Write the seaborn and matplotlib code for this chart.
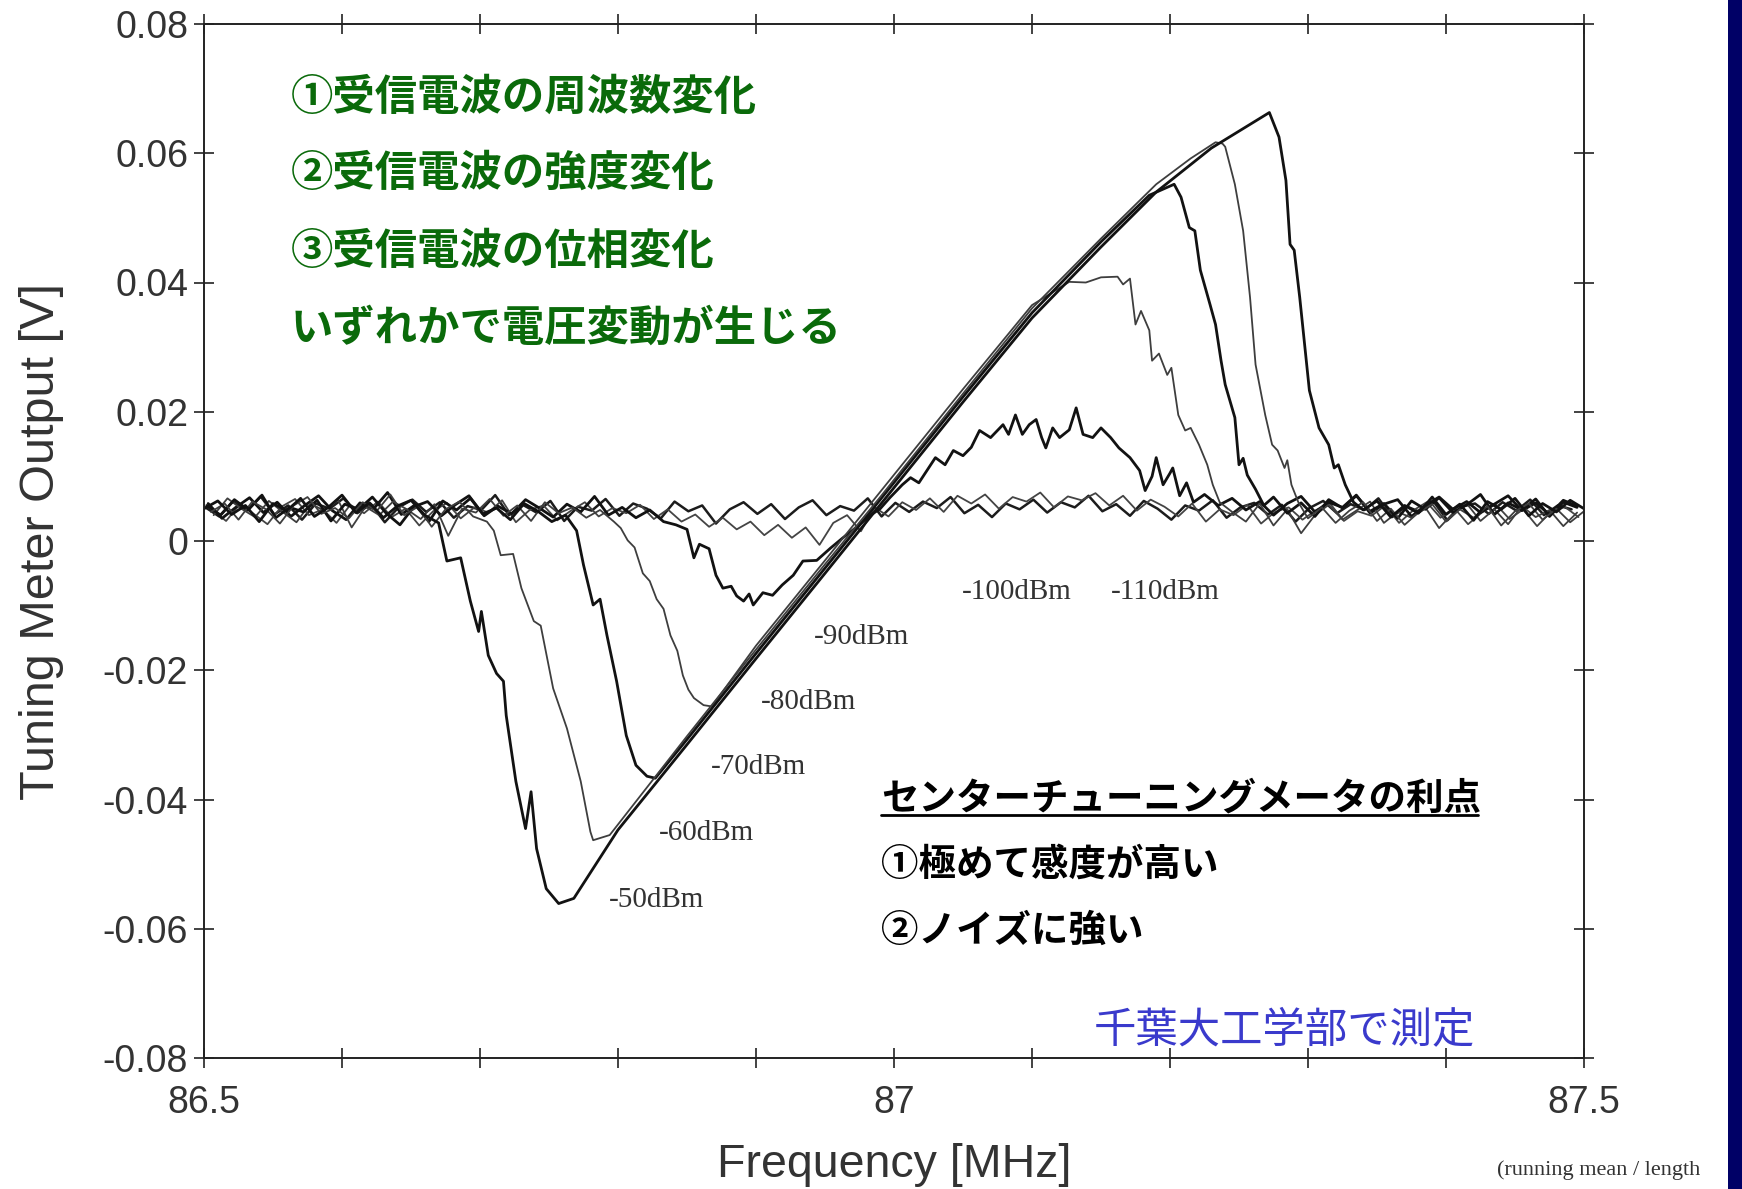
import numpy as np
import matplotlib
matplotlib.use("Agg")
import matplotlib.pyplot as plt
import seaborn as sns
from matplotlib.lines import Line2D
from matplotlib.patches import Rectangle

# ---------------- data ----------------
F50 = [86.500, 86.510, 86.520, 86.530, 86.540, 86.550, 86.560, 86.570, 86.580, 86.590,
       86.600, 86.610, 86.620, 86.630, 86.640, 86.650, 86.660, 86.670,
       86.676, 86.686, 86.693, 86.699, 86.701, 86.706, 86.712, 86.717, 86.719, 86.726,
       86.733, 86.737, 86.741, 86.748, 86.757, 86.768,
       86.800, 86.850, 86.900, 86.950, 86.990, 87.050, 87.100, 87.150, 87.190, 87.230, 87.272,
       87.279, 87.284, 87.287, 87.290, 87.294, 87.301, 87.308, 87.315, 87.319, 87.322, 87.327, 87.333,
       87.340, 87.350, 87.360, 87.370, 87.380, 87.390, 87.400, 87.410, 87.420, 87.430,
       87.440, 87.450, 87.460, 87.470, 87.480, 87.490, 87.500]
V50 = [0.0050, 0.0062, 0.0041, 0.0055, 0.0030, 0.0058, 0.0047, 0.0066, 0.0038, 0.0052,
       0.0071, 0.0044, 0.0059, 0.0036, 0.0054, 0.0063, 0.0040, 0.0028,
       -0.0031, -0.0026, -0.0093, -0.0140, -0.0109, -0.0177, -0.0205, -0.0217, -0.0270, -0.0372,
       -0.0445, -0.0388, -0.0476, -0.0538, -0.0561, -0.0553,
       -0.0447, -0.0315, -0.0182, -0.0050, 0.0056, 0.0215, 0.0345, 0.0455, 0.0540, 0.0608, 0.0663,
       0.0625, 0.0558, 0.0459, 0.0450, 0.0377, 0.0233, 0.0175, 0.0149, 0.0113, 0.0118, 0.0087, 0.0060,
       0.0048, 0.0062, 0.0037, 0.0055, 0.0043, 0.0068, 0.0041, 0.0057, 0.0032, 0.0061,
       0.0049, 0.0066, 0.0039, 0.0058, 0.0045, 0.0063, 0.0050]

F60 = [86.505, 86.515, 86.525, 86.535, 86.545, 86.555, 86.565, 86.575, 86.585, 86.595,
       86.605, 86.615, 86.625, 86.635, 86.645, 86.655, 86.665, 86.675, 86.685, 86.695, 86.705,
       86.710, 86.715, 86.724, 86.730, 86.739, 86.744, 86.753, 86.763, 86.773, 86.780, 86.782, 86.794,
       86.850, 86.900, 86.950, 86.990, 87.050, 87.100, 87.150, 87.190, 87.215, 87.233, 87.238,
       87.240, 87.247, 87.253, 87.258, 87.262, 87.269, 87.274, 87.278, 87.283, 87.285, 87.288, 87.293,
       87.300, 87.310, 87.320, 87.330, 87.340, 87.350, 87.360, 87.370, 87.380, 87.390,
       87.400, 87.410, 87.420, 87.430, 87.440, 87.450, 87.460, 87.470, 87.480, 87.490, 87.500]
V60 = [0.0045, 0.0058, 0.0033, 0.0061, 0.0049, 0.0027, 0.0055, 0.0068, 0.0042, 0.0051,
       0.0035, 0.0060, 0.0046, 0.0072, 0.0040, 0.0053, 0.0022, 0.0049, 0.0061, 0.0038, 0.0030,
       0.0016, -0.0022, -0.0020, -0.0073, -0.0124, -0.0131, -0.0228, -0.0290, -0.0372, -0.0450, -0.0463, -0.0455,
       -0.0302, -0.0168, -0.0036, 0.0068, 0.0228, 0.0360, 0.0468, 0.0552, 0.0592, 0.0617, 0.0615,
       0.0610, 0.0552, 0.0480, 0.0377, 0.0273, 0.0195, 0.0149, 0.0140, 0.0113, 0.0125, 0.0087, 0.0060,
       0.0035, 0.0052, 0.0028, 0.0047, 0.0060, 0.0031, 0.0050, 0.0025, 0.0044, 0.0057,
       0.0030, 0.0049, 0.0036, 0.0054, 0.0024, 0.0046, 0.0058, 0.0033, 0.0050, 0.0029, 0.0046]

F70 = [86.502, 86.512, 86.522, 86.532, 86.542, 86.552, 86.562, 86.572, 86.582, 86.592,
       86.602, 86.612, 86.622, 86.632, 86.642, 86.652, 86.662, 86.672, 86.682, 86.692,
       86.702, 86.712, 86.722, 86.732, 86.742, 86.752, 86.762,
       86.770, 86.775, 86.782, 86.787, 86.792, 86.799, 86.806, 86.813, 86.821, 86.827,
       86.850, 86.900, 86.950, 86.990, 87.050, 87.100, 87.150, 87.185, 87.203,
       87.208, 87.214, 87.218, 87.222, 87.229, 87.233, 87.237, 87.240, 87.247, 87.250, 87.253, 87.256, 87.262, 87.268,
       87.275, 87.285, 87.295, 87.305, 87.315, 87.325, 87.335, 87.345, 87.355, 87.365,
       87.375, 87.385, 87.395, 87.405, 87.415, 87.425, 87.435, 87.445, 87.455, 87.465, 87.475, 87.485, 87.495]
V70 = [0.0055, 0.0040, 0.0064, 0.0048, 0.0071, 0.0036, 0.0052, 0.0045, 0.0063, 0.0031,
       0.0057, 0.0049, 0.0068, 0.0043, 0.0025, 0.0053, 0.0061, 0.0039, 0.0056, 0.0070,
       0.0042, 0.0051, 0.0033, 0.0058, 0.0046, 0.0030, 0.0040,
       0.0016, -0.0037, -0.0099, -0.0090, -0.0146, -0.0217, -0.0301, -0.0347, -0.0364, -0.0367,
       -0.0307, -0.0174, -0.0042, 0.0064, 0.0223, 0.0353, 0.0463, 0.0535, 0.0552,
       0.0532, 0.0485, 0.0480, 0.0419, 0.0366, 0.0335, 0.0279, 0.0242, 0.0191, 0.0118, 0.0128, 0.0102, 0.0080, 0.0055,
       0.0068, 0.0043, 0.0059, 0.0038, 0.0064, 0.0051, 0.0070, 0.0046, 0.0058, 0.0035,
       0.0062, 0.0049, 0.0067, 0.0044, 0.0056, 0.0072, 0.0041, 0.0059, 0.0048, 0.0065, 0.0038, 0.0060, 0.0052]

F80 = [86.507, 86.517, 86.527, 86.537, 86.547, 86.557, 86.567, 86.577, 86.587, 86.597,
       86.607, 86.617, 86.627, 86.637, 86.647, 86.657, 86.667, 86.677, 86.687, 86.697,
       86.707, 86.717, 86.727, 86.737, 86.747, 86.757, 86.767, 86.777, 86.787, 86.797,
       86.802, 86.807, 86.812, 86.818, 86.823, 86.828, 86.833, 86.838, 86.843, 86.847, 86.851, 86.855, 86.862, 86.868,
       86.900, 86.950, 86.990, 87.050, 87.100, 87.127,
       87.139, 87.150, 87.162, 87.166, 87.171, 87.175, 87.179, 87.185, 87.187, 87.192, 87.198, 87.201, 87.206, 87.211,
       87.215, 87.221, 87.227, 87.231, 87.236,
       87.245, 87.255, 87.265, 87.275, 87.285, 87.295, 87.305, 87.315, 87.325, 87.335,
       87.345, 87.355, 87.365, 87.375, 87.385, 87.395, 87.405, 87.415, 87.425, 87.435,
       87.445, 87.455, 87.465, 87.475, 87.485, 87.495]
V80 = [0.0040, 0.0066, 0.0050, 0.0037, 0.0062, 0.0045, 0.0029, 0.0058, 0.0047, 0.0064,
       0.0021, 0.0053, 0.0040, 0.0061, 0.0049, 0.0034, 0.0057, 0.0008, 0.0050, 0.0044,
       0.0065, 0.0039, 0.0055, 0.0031, 0.0060, 0.0043, 0.0052, 0.0036, 0.0048, 0.0030,
       0.0020, 0.0001, -0.0010, -0.0050, -0.0062, -0.0090, -0.0105, -0.0146, -0.0170, -0.0208, -0.0230, -0.0243, -0.0254, -0.0256,
       -0.0162, -0.0030, 0.0076, 0.0235, 0.0365, 0.0401,
       0.0400, 0.0408, 0.0409, 0.0397, 0.0406, 0.0335, 0.0356, 0.0326, 0.0279, 0.0290, 0.0257, 0.0268, 0.0195, 0.0171,
       0.0175, 0.0149, 0.0118, 0.0087, 0.0060,
       0.0045, 0.0030, 0.0058, 0.0024, 0.0049, 0.0012, 0.0040, 0.0056, 0.0033, 0.0047,
       0.0061, 0.0028, 0.0045, 0.0036, 0.0052, 0.0020, 0.0043, 0.0058, 0.0031, 0.0049,
       0.0026, 0.0054, 0.0037, 0.0048, 0.0023, 0.0044]

F90 = [86.503, 86.513, 86.523, 86.533, 86.543, 86.553, 86.563, 86.573, 86.583, 86.593,
       86.603, 86.613, 86.623, 86.633, 86.643, 86.653, 86.663, 86.673, 86.683, 86.693,
       86.703, 86.713, 86.723, 86.733, 86.743, 86.753, 86.763, 86.773, 86.783, 86.793,
       86.803, 86.813, 86.823, 86.833,
       86.842, 86.850, 86.855, 86.859, 86.866, 86.871, 86.876, 86.882, 86.886, 86.891,
       86.895, 86.898, 86.905, 86.912, 86.919, 86.927, 86.934, 86.944, 86.954, 86.963,
       86.972, 86.983, 86.990, 86.997, 87.006, 87.012, 87.018, 87.030, 87.037, 87.043,
       87.050, 87.056, 87.062, 87.070, 87.079, 87.083, 87.088, 87.093, 87.098, 87.103,
       87.107, 87.110, 87.115, 87.120, 87.127, 87.132, 87.137, 87.144, 87.150, 87.157,
       87.163, 87.171, 87.178, 87.182, 87.187, 87.190, 87.195, 87.200, 87.202, 87.207,
       87.212, 87.217,
       87.225, 87.235, 87.245, 87.255, 87.265, 87.275, 87.285, 87.295, 87.305, 87.315,
       87.325, 87.335, 87.345, 87.355, 87.365, 87.375, 87.385, 87.395, 87.405, 87.415,
       87.425, 87.435, 87.445, 87.455, 87.465, 87.475, 87.485, 87.495]
V90 = [0.0058, 0.0035, 0.0052, 0.0067, 0.0044, 0.0060, 0.0038, 0.0055, 0.0070, 0.0047,
       0.0033, 0.0059, 0.0050, 0.0075, 0.0041, 0.0056, 0.0030, 0.0062, 0.0048, 0.0066,
       0.0039, 0.0054, 0.0042, 0.0064, 0.0051, 0.0037, 0.0057, 0.0045, 0.0069, 0.0040,
       0.0052, 0.0036, 0.0048, 0.0030,
       0.0025, 0.0018, -0.0026, -0.0005, -0.0012, -0.0053, -0.0073, -0.0070, -0.0085, -0.0093,
       -0.0082, -0.0099, -0.0080, -0.0084, -0.0068, -0.0053, -0.0031, -0.0030, -0.0011, 0.0005,
       0.0020, 0.0040, 0.0050, 0.0067, 0.0087, 0.0098, 0.0090, 0.0129, 0.0118, 0.0140,
       0.0132, 0.0145, 0.0171, 0.0160, 0.0180, 0.0165, 0.0195, 0.0165, 0.0180, 0.0188,
       0.0160, 0.0144, 0.0175, 0.0160, 0.0172, 0.0206, 0.0165, 0.0160, 0.0175, 0.0160,
       0.0144, 0.0129, 0.0109, 0.0078, 0.0100, 0.0129, 0.0087, 0.0105, 0.0113, 0.0070,
       0.0090, 0.0060,
       0.0072, 0.0055, 0.0066, 0.0048, 0.0061, 0.0040, 0.0058, 0.0069, 0.0045, 0.0060,
       0.0052, 0.0071, 0.0043, 0.0057, 0.0064, 0.0038, 0.0055, 0.0068, 0.0049, 0.0061,
       0.0044, 0.0057, 0.0070, 0.0047, 0.0059, 0.0041, 0.0063, 0.0054]

F100 = [86.506, 86.516, 86.526, 86.536, 86.546, 86.556, 86.566, 86.576, 86.586, 86.596,
        86.606, 86.616, 86.626, 86.636, 86.646, 86.656, 86.666, 86.676, 86.686, 86.696,
        86.706, 86.716, 86.726, 86.736, 86.746, 86.756, 86.766, 86.776, 86.786, 86.796,
        86.806, 86.816, 86.826, 86.836, 86.846, 86.856, 86.866, 86.876, 86.886, 86.896,
        86.906, 86.916, 86.926, 86.936, 86.946, 86.956, 86.966, 86.976, 86.986, 86.996,
        87.006, 87.016, 87.026, 87.036, 87.046, 87.056, 87.066, 87.076, 87.086, 87.096,
        87.106, 87.116, 87.126, 87.136, 87.146, 87.156, 87.166, 87.176, 87.186, 87.196,
        87.206, 87.216, 87.226, 87.236, 87.246, 87.256, 87.266, 87.276, 87.286, 87.296,
        87.306, 87.316, 87.326, 87.336, 87.346, 87.356, 87.366, 87.376, 87.386, 87.396,
        87.406, 87.416, 87.426, 87.436, 87.446, 87.456, 87.466, 87.476, 87.486, 87.496]
V100 = [0.0048, 0.0031, 0.0057, 0.0042, 0.0026, 0.0053, 0.0065, 0.0040, 0.0049, 0.0028,
        0.0056, 0.0043, 0.0061, 0.0037, 0.0050, 0.0024, 0.0046, 0.0059, 0.0035, 0.0052,
        0.0044, 0.0063, 0.0029, 0.0048, 0.0055, 0.0032, 0.0047, 0.0060, 0.0038, 0.0051,
        0.0043, 0.0056, 0.0034, 0.0049, 0.0030, 0.0041, 0.0022, 0.0036, 0.0018, 0.0030,
        0.0009, 0.0025, 0.0005, 0.0021, -0.0006, 0.0028, 0.0040, 0.0015, 0.0052, 0.0038,
        0.0060, 0.0048, 0.0066, 0.0045, 0.0070, 0.0058, 0.0072, 0.0050, 0.0068, 0.0061,
        0.0075, 0.0052, 0.0069, 0.0063, 0.0074, 0.0055, 0.0070, 0.0047, 0.0064, 0.0053,
        0.0038, 0.0058, 0.0030, 0.0049, 0.0040, 0.0056, 0.0027, 0.0045, 0.0052, 0.0033,
        0.0048, 0.0058, 0.0031, 0.0046, 0.0039, 0.0055, 0.0028, 0.0047, 0.0060, 0.0036,
        0.0051, 0.0026, 0.0044, 0.0057, 0.0034, 0.0049, 0.0023, 0.0045, 0.0053, 0.0037]

F110 = [86.501, 86.511, 86.521, 86.531, 86.541, 86.551, 86.561, 86.571, 86.581, 86.591,
        86.601, 86.611, 86.621, 86.631, 86.641, 86.651, 86.661, 86.671, 86.681, 86.691,
        86.701, 86.711, 86.721, 86.731, 86.741, 86.751, 86.761, 86.771, 86.781, 86.791,
        86.801, 86.811, 86.821, 86.831, 86.841, 86.851, 86.861, 86.871, 86.881, 86.891,
        86.901, 86.911, 86.921, 86.931, 86.941, 86.951, 86.961, 86.971, 86.981, 86.991,
        87.001, 87.011, 87.021, 87.031, 87.041, 87.051, 87.061, 87.071, 87.081, 87.091,
        87.101, 87.111, 87.121, 87.131, 87.141, 87.151, 87.161, 87.171, 87.181, 87.191,
        87.201, 87.211, 87.221, 87.231, 87.241, 87.251, 87.261, 87.271, 87.281, 87.291,
        87.301, 87.311, 87.321, 87.331, 87.341, 87.351, 87.361, 87.371, 87.381, 87.391,
        87.401, 87.411, 87.421, 87.431, 87.441, 87.451, 87.461, 87.471, 87.481, 87.491]
V110 = [0.0052, 0.0038, 0.0061, 0.0047, 0.0069, 0.0041, 0.0055, 0.0033, 0.0058, 0.0050,
        0.0066, 0.0043, 0.0057, 0.0029, 0.0052, 0.0064, 0.0045, 0.0060, 0.0036, 0.0054,
        0.0048, 0.0071, 0.0040, 0.0056, 0.0044, 0.0062, 0.0031, 0.0053, 0.0047, 0.0065,
        0.0039, 0.0058, 0.0050, 0.0035, 0.0061, 0.0046, 0.0055, 0.0027, 0.0049, 0.0060,
        0.0042, 0.0057, 0.0034, 0.0052, 0.0063, 0.0040, 0.0054, 0.0047, 0.0066, 0.0038,
        0.0059, 0.0045, 0.0061, 0.0051, 0.0068, 0.0043, 0.0056, 0.0037, 0.0058, 0.0049,
        0.0064, 0.0044, 0.0060, 0.0052, 0.0070, 0.0046, 0.0057, 0.0039, 0.0062, 0.0050,
        0.0033, 0.0055, 0.0047, 0.0063, 0.0036, 0.0052, 0.0059, 0.0041, 0.0056, 0.0030,
        0.0051, 0.0062, 0.0043, 0.0057, 0.0048, 0.0066, 0.0037, 0.0054, 0.0045, 0.0061,
        0.0032, 0.0053, 0.0058, 0.0042, 0.0060, 0.0047, 0.0064, 0.0040, 0.0055, 0.0049]

LEVEL_LABELS = ["-50dBm", "-60dBm", "-70dBm", "-80dBm", "-90dBm", "-100dBm", "-110dBm"]
X_MAJOR = [86.5, 87.0, 87.5]
X_MAJOR_LABELS = ["86.5", "87", "87.5"]
X_MINOR = [86.6, 86.7, 86.8, 86.9, 87.1, 87.2, 87.3, 87.4]
Y_TICKS = [0.08, 0.06, 0.04, 0.02, 0.0, -0.02, -0.04, -0.06, -0.08]
Y_TICK_LABELS = ["0.08", "0.06", "0.04", "0.02", "0", "-0.02", "-0.04", "-0.06", "-0.08"]
GREEN_LINES = ["①受信電波の周波数変化", "②受信電波の強度変化", "③受信電波の位相変化", "いずれかで電圧変動が生じる"]
BLACK_HEAD = "センターチューニングメータの利点"
BLACK_LINES = ["①極めて感度が高い", "②ノイズに強い"]
SOURCE_NOTE = "千葉大工学部で測定"

# ---------------- figure ----------------
sns.set_style("ticks")
plt.rcParams['font.family'] = ['Liberation Sans', 'Noto Sans CJK JP', 'DejaVu Sans']

W, H = 1742, 1189
fig = plt.figure(figsize=(W / 100, H / 100), dpi=100)
fig.patch.set_facecolor("white")


def fx(x):
    return x / W


def fy(y):
    return 1 - y / H


ax = fig.add_axes([fx(204), fy(1058), (1584 - 204) / W, (1058 - 24) / H])
ax.set_facecolor("white")

series = [
    (F110, V110, "#1c1c1c", 1.8),
    (F100, V100, "#444444", 1.3),
    (F90, V90, "#121212", 2.0),
    (F80, V80, "#3e3e3e", 1.3),
    (F70, V70, "#121212", 2.0),
    (F60, V60, "#3e3e3e", 1.3),
    (F50, V50, "#121212", 2.0),
]
for f, v, c, lw in series:
    sns.lineplot(x=f, y=v, ax=ax, color=c, linewidth=lw, estimator=None, sort=False)

ax.set_xlim(86.5, 87.5)
ax.set_ylim(-0.08, 0.08)
ax.set_xticks(X_MAJOR)
ax.set_xticklabels(X_MAJOR_LABELS)
ax.set_xticks(X_MINOR, minor=True)
ax.set_yticks(Y_TICKS)
ax.set_yticklabels(Y_TICK_LABELS)
ax.tick_params(which='both', direction='inout', length=15, width=1.2, color='#222222',
               top=True, right=True, labelsize=27, labelcolor='#333333')
ax.tick_params(axis='x', which='major', pad=12)
ax.tick_params(axis='y', which='major', pad=4)
for s in ax.spines.values():
    s.set_linewidth(1.4)
    s.set_color('#222222')

ax.set_xlabel("Frequency [MHz]", fontsize=33.5, color='#333333', labelpad=16)
ax.set_ylabel("Tuning Meter Output [V]", fontsize=35, color='#333333', labelpad=28)

# curve labels (serif, as in scan)
label_pos = [(609, 900), (659, 833), (711, 767), (761, 702), (814, 637), (962, 592), (1111, 592)]
for lab, (px, py) in zip(LEVEL_LABELS, label_pos):
    fig.text(fx(px), fy(py), lab, fontsize=21, family=['Liberation Serif'], color='#333333',
             ha='left', va='center')

# green annotation
green_y = [98, 174, 252, 329]
for s, y in zip(GREEN_LINES, green_y):
    fig.text(fx(291), fy(y), s, fontsize=30.5, fontweight='bold', color='#0a6a0a',
             family=['Noto Sans CJK JP', 'DejaVu Sans'], ha='left', va='center')

# black annotation
fig.text(fx(881), fy(798), BLACK_HEAD, fontsize=27, fontweight='bold', color='black',
         family=['Noto Sans CJK JP', 'DejaVu Sans'], ha='left', va='center')
fig.add_artist(Line2D([fx(881), fx(1478)], [fy(815), fy(815)], color='black', linewidth=2))
for s, y in zip(BLACK_LINES, [864, 930]):
    fig.text(fx(881), fy(y), s, fontsize=27, fontweight='bold', color='black',
             family=['Noto Sans CJK JP', 'DejaVu Sans'], ha='left', va='center')

# blue source note
fig.text(fx(1094), fy(1030), SOURCE_NOTE, fontsize=30.5, color='#3a3acc',
         family=['Noto Sans CJK JP', 'DejaVu Sans'], ha='left', va='center')

# cropped footnote of the scan
fig.text(fx(1497), fy(1170), "(running mean / length", fontsize=16, family=['Liberation Serif'],
         color='#333333', ha='left', va='center')

# dark-blue slide edge on the right
fig.add_artist(Rectangle((fx(1728), 0), 1 - fx(1728), 1, transform=fig.transFigure,
                         facecolor='#000066', edgecolor='none', zorder=20))

fig.savefig("out.png", dpi=100)
